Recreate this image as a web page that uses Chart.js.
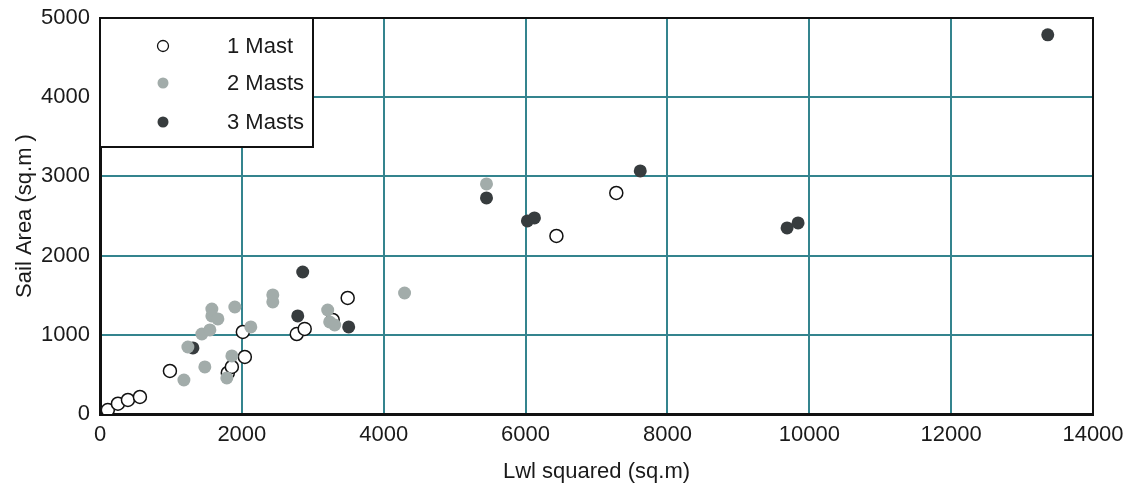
<!DOCTYPE html>
<html>
<head>
<meta charset="utf-8">
<script src="https://cdn.jsdelivr.net/npm/chart.js@4/dist/chart.umd.min.js"></script>
<style>
  html, body { margin: 0; padding: 0; background: #fff; }
  #wrap { width: 1136px; height: 486px; }
</style>
</head>
<body>
<div id="wrap"><canvas id="sailChart" width="1136" height="486"></canvas></div>
<script>
// [Lwl squared, Sail area]
const oneMast = [[110, 50], [253, 130], [394, 177], [563, 215], [986, 543], [1802, 518], [1859, 594],
  [2014, 1036], [2042, 720], [2774, 1010], [2886, 1074], [3281, 1187], [3492, 1465], [6435, 2248], [7279, 2791]];
const twoMasts = [[1183, 429], [1239, 846], [1436, 1010], [1478, 594], [1549, 1061], [1577, 1326], [1577, 1238],
  [1662, 1200], [1788, 455], [1859, 733], [1901, 1351], [2126, 1099], [2436, 1503], [2436, 1415], [3210, 1313],
  [3238, 1162], [3309, 1124], [4294, 1528], [5449, 2905]];
const threeMasts = [[1310, 834], [2788, 1238], [2858, 1793], [3506, 1099], [5449, 2728], [6026, 2438],
  [6125, 2476], [7617, 3069], [9687, 2349], [9842, 2412], [13362, 4787]];
const seriesNames = ['1 Mast', '2 Masts', '3 Masts'];
const xTicks = [0, 2000, 4000, 6000, 8000, 10000, 12000, 14000];
const yTicks = [0, 1000, 2000, 3000, 4000, 5000];

const FONT = '"Liberation Sans", Arial, sans-serif';
const GRID = 'rgb(52,132,142)';
const GRAY = 'rgb(162,172,170)';
const DARK = 'rgb(55,60,62)';

function toPoints(arr) {
  return arr.map(p => ({ x: p[0], y: p[1] }));
}

// frame on top and right + boxed legend in the top-left corner
const frameAndLegend = {
  id: 'frameAndLegend',
  afterDatasetsDraw(chart) {
    const c = chart.ctx;
    const a = chart.chartArea;
    c.save();
    c.strokeStyle = '#111';
    c.lineWidth = 2;
    c.beginPath();
    c.moveTo(a.left, a.top);
    c.lineTo(a.right, a.top);
    c.lineTo(a.right, a.bottom);
    c.stroke();

    // legend box
    const bx = a.left, by = a.top, bw = 213, bh = 129;
    c.fillStyle = '#fff';
    c.fillRect(bx, by, bw, bh);
    c.strokeRect(bx, by, bw, bh);

    const rows = [28, 65, 104];
    chart.data.datasets.forEach((ds, i) => {
      const cy = by + rows[i];
      c.beginPath();
      c.arc(bx + 63, cy, 5.5, 0, Math.PI * 2);
      c.fillStyle = ds.backgroundColor;
      c.fill();
      if (ds.borderWidth > 0) {
        c.lineWidth = 1.3;
        c.strokeStyle = ds.borderColor;
        c.stroke();
      }
      c.fillStyle = '#1a1a1a';
      c.font = '22px ' + FONT;
      c.textBaseline = 'middle';
      c.textAlign = 'left';
      c.fillText(ds.label, bx + 127, cy + 1);
    });
    c.restore();
  }
};

const ctx = document.getElementById('sailChart').getContext('2d');
new Chart(ctx, {
  type: 'scatter',
  data: {
    datasets: [
      {
        label: seriesNames[0],
        data: toPoints(oneMast),
        backgroundColor: '#fff',
        borderColor: '#111',
        borderWidth: 1.5,
        pointRadius: 6.5,
        order: 2
      },
      {
        label: seriesNames[1],
        data: toPoints(twoMasts),
        backgroundColor: GRAY,
        borderColor: GRAY,
        borderWidth: 0,
        pointRadius: 6.5,
        order: 0
      },
      {
        label: seriesNames[2],
        data: toPoints(threeMasts),
        backgroundColor: DARK,
        borderColor: DARK,
        borderWidth: 0,
        pointRadius: 6.5,
        order: 1
      }
    ]
  },
  options: {
    responsive: false,
    animation: false,
    layout: { padding: { top: 18, right: 43, left: 0, bottom: 0 } },
    plugins: {
      legend: { display: false },
      tooltip: { enabled: false }
    },
    scales: {
      x: {
        type: 'linear',
        min: 0,
        max: 14000,
        afterBuildTicks: s => { s.ticks = xTicks.map(v => ({ value: v })); },
        afterFit: s => { s.height = 72; s.paddingLeft = 0; s.paddingRight = 0; },
        ticks: {
          color: '#1a1a1a',
          font: { family: FONT, size: 22 },
          padding: 8,
          maxRotation: 0,
          callback: v => String(v)
        },
        grid: {
          color: c => (c.tick && (c.tick.value === 0 || c.tick.value === 14000)) ? 'rgba(0,0,0,0)' : GRID,
          lineWidth: 2,
          drawTicks: false
        },
        border: { color: '#111', width: 3 },
        title: {
          display: true,
          text: 'Lwl squared (sq.m)',
          color: '#1a1a1a',
          font: { family: FONT, size: 22 },
          padding: { top: 0, bottom: 1 }
        }
      },
      y: {
        type: 'linear',
        min: 0,
        max: 5000,
        afterBuildTicks: s => { s.ticks = yTicks.map(v => ({ value: v })); },
        afterFit: s => { s.width = 100; s.paddingTop = 0; s.paddingBottom = 0; },
        ticks: {
          color: '#1a1a1a',
          font: { family: FONT, size: 22 },
          padding: 10,
          callback: v => String(v)
        },
        grid: {
          color: c => (c.tick && (c.tick.value === 0 || c.tick.value === 5000)) ? 'rgba(0,0,0,0)' : GRID,
          lineWidth: 2,
          drawTicks: false
        },
        border: { color: '#111', width: 3 },
        title: {
          display: true,
          text: 'Sail Area (sq.m )',
          color: '#1a1a1a',
          font: { family: FONT, size: 22 },
          padding: { top: 12, bottom: 0 }
        }
      }
    }
  },
  plugins: [frameAndLegend]
});
</script>
</body>
</html>
